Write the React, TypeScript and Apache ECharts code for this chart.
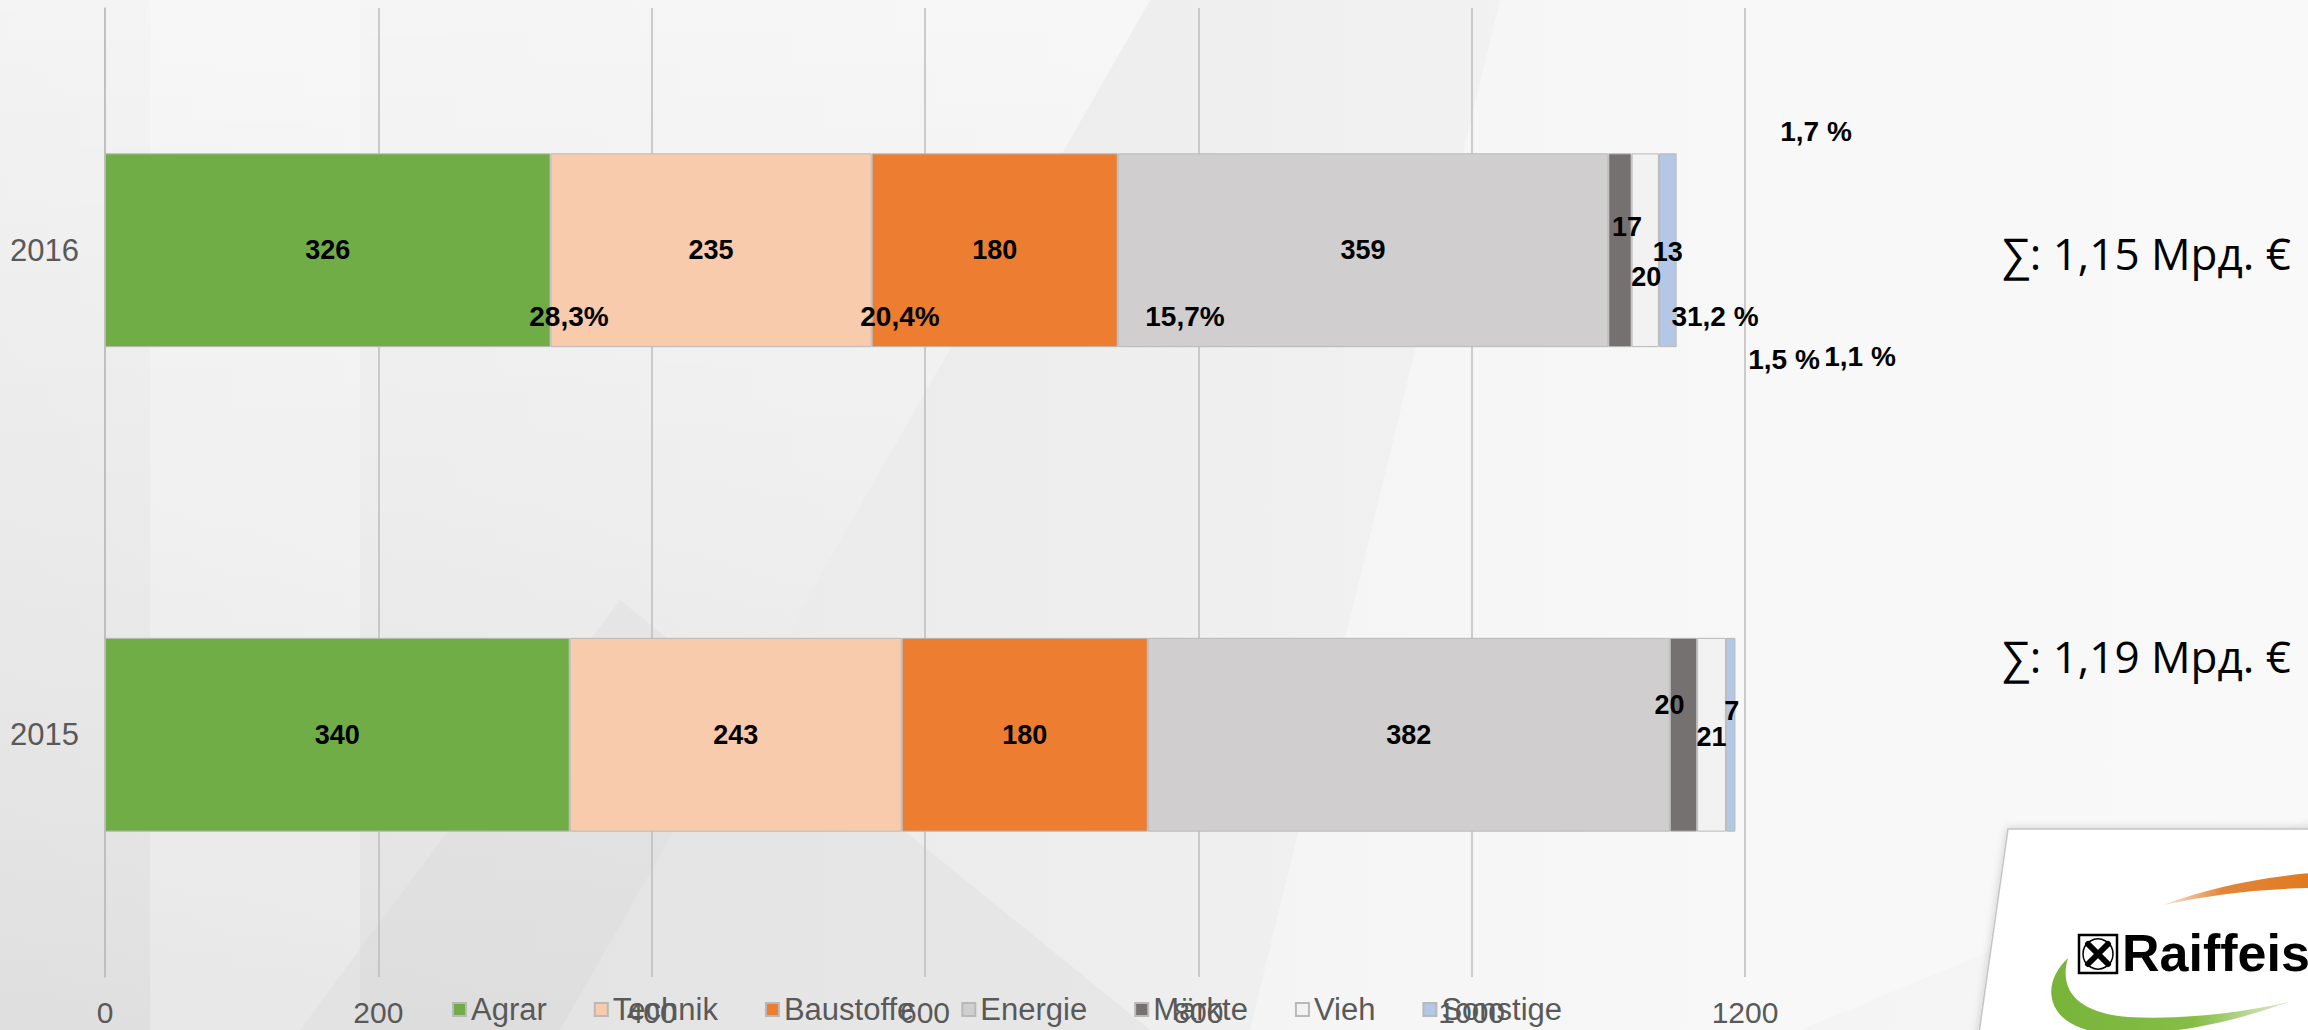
import React, { useEffect, useRef } from 'react';
import * as echarts from 'echarts';

// ---------- data ----------
const years = ['2015', '2016'];
const seriesNames = ['Agrar', 'Technik', 'Baustoffe', 'Energie', 'Märkte', 'Vieh', 'Sonstige'];
const values2015 = [340, 243, 180, 382, 20, 21, 7];
const values2016 = [326, 235, 180, 359, 17, 20, 13];
const pctLabels2016 = ['28,3%', '20,4%', '15,7%', '31,2 %', '1,5 %', '1,7 %', '1,1 %'];
const xMin = 0;
const xMax = 1200;
const xStep = 200;

// ---------- styles / layout ----------
const colors = ['#70ad47', '#f8cbad', '#ed7d31', '#d0cece', '#767171', '#f2f2f2', '#b4c7e7'];
const labelOffsets2015 = [[0, 0], [0, 0], [0, 0], [0, 0], [-14, -30], [0, 2], [1, -24]];
const labelOffsets2016 = [[0, 0], [0, 0], [0, 0], [0, 0], [7, -23], [1, 27], [0, 2]];
const pctPositions = [[569, 316], [900, 316], [1185, 316], [1715, 316], [1784, 359], [1816, 131], [1860, 356]];
const sumPositions = [[2002, 656], [2002, 253]]; // 2015, 2016

const SANS = '"Liberation Sans", Arial, sans-serif';
const NARROW = '"Liberation Sans Narrow", "Arial Narrow", "Liberation Sans", sans-serif';

const sum = (a: number[]) => a.reduce((s, v) => s + v, 0);
const fmtMrd = (v: number) => (v / 1000).toFixed(2).replace('.', ',');

export default function App() {
  const ref = useRef<HTMLDivElement>(null);

  useEffect(() => {
    if (!ref.current) return;

    echarts.graphic.registerShape(
      'orangeSwoosh',
      echarts.graphic.extendPath('M2163,905 Q2230,880 2312,873 L2312,888 Q2235,889 2163,905 Z', {})
    );
    echarts.graphic.registerShape(
      'greenSwoosh',
      echarts.graphic.extendPath(
        'M2068,958 C2036,988 2048,1034 2120,1034 C2190,1034 2250,1016 2289,1002 C2240,1013 2180,1020 2128,1017 C2080,1013 2058,992 2068,958 Z',
        {}
      )
    );

    const chart = echarts.init(ref.current, null, { renderer: 'svg' });

    const totals = [sum(values2015), sum(values2016)];

    const series = seriesNames.map((name, i) => ({
      name,
      type: 'bar',
      stack: 'total',
      barCategoryGap: '60%',
      itemStyle: { color: colors[i], borderColor: '#b9b9b9', borderWidth: 1 },
      label: {
        show: true,
        position: 'inside',
        fontSize: 27,
        fontWeight: 'bold',
        color: '#000',
        fontFamily: SANS,
      },
      emphasis: { disabled: true },
      data: [
        { value: values2015[i], label: { offset: labelOffsets2015[i] } },
        { value: values2016[i], label: { offset: labelOffsets2016[i] } },
      ],
    }));

    const pctTexts = pctLabels2016.map((t, i) => ({
      type: 'text',
      x: pctPositions[i][0],
      y: pctPositions[i][1],
      z: 20,
      silent: true,
      style: {
        text: t,
        fill: '#000',
        fontSize: 28,
        fontWeight: 'bold',
        fontFamily: NARROW,
        textAlign: 'center',
        textVerticalAlign: 'middle',
      },
    }));

    const sumTexts = years.map((y, i) => ({
      type: 'text',
      x: sumPositions[i][0],
      y: sumPositions[i][1],
      z: 20,
      silent: true,
      style: {
        text: '∑: ' + fmtMrd(totals[i]) + ' Мрд. €',
        fill: '#000',
        fontSize: 44,
        fontFamily: '"Open Sans", "Noto Sans", sans-serif',
        textAlign: 'left',
        textVerticalAlign: 'middle',
      },
    }));

    const background = [
      {
        type: 'rect',
        z: -100,
        silent: true,
        shape: { x: 0, y: 0, width: 2308, height: 1030 },
        style: {
          fill: new echarts.graphic.LinearGradient(0, 0, 1, 0, [
            { offset: 0, color: '#e6e6e6' },
            { offset: 0.45, color: '#ededed' },
            { offset: 0.75, color: '#f4f4f4' },
            { offset: 1, color: '#f6f6f6' },
          ]),
        },
      },
      {
        type: 'polygon',
        z: -99,
        silent: true,
        shape: { points: [[0, 0], [1150, 0], [560, 1030], [0, 1030]] },
        style: {
          fill: new echarts.graphic.LinearGradient(0, 0, 0, 1, [
            { offset: 0, color: 'rgba(255,255,255,0.55)' },
            { offset: 0.45, color: 'rgba(255,255,255,0.2)' },
            { offset: 1, color: 'rgba(200,200,200,0.25)' },
          ]),
        },
      },
      {
        type: 'polygon',
        z: -99,
        silent: true,
        shape: { points: [[150, 0], [360, 0], [360, 1030], [150, 1030]] },
        style: { fill: 'rgba(255,255,255,0.25)' },
      },
      {
        type: 'polygon',
        z: -99,
        silent: true,
        shape: { points: [[1500, 0], [2308, 0], [2308, 820], [1800, 1030], [1250, 1030]] },
        style: { fill: 'rgba(255,255,255,0.35)' },
      },
      {
        type: 'polygon',
        z: -99,
        silent: true,
        shape: { points: [[620, 600], [1150, 1030], [300, 1030]] },
        style: { fill: 'rgba(210,210,210,0.25)' },
      },
    ];

    const logo = [
      {
        type: 'polygon',
        z: 30,
        silent: true,
        shape: { points: [[2008, 829], [2320, 829], [2320, 1040], [1978, 1040]] },
        style: {
          fill: '#ffffff',
          stroke: '#c4c4c4',
          lineWidth: 1.5,
          shadowBlur: 8,
          shadowColor: 'rgba(0,0,0,0.18)',
        },
      },
      {
        type: 'orangeSwoosh',
        z: 31,
        silent: true,
        style: {
          fill: new echarts.graphic.LinearGradient(0, 0, 1, 0, [
            { offset: 0, color: 'rgba(230,130,40,0.2)' },
            { offset: 0.4, color: '#e2863a' },
            { offset: 1, color: '#e07a1f' },
          ]),
        },
      },
      {
        type: 'greenSwoosh',
        z: 31,
        silent: true,
        style: {
          fill: new echarts.graphic.LinearGradient(0, 0, 1, 0, [
            { offset: 0, color: '#78b43a' },
            { offset: 0.6, color: '#86bd45' },
            { offset: 1, color: 'rgba(140,190,80,0.3)' },
          ]),
        },
      },
      {
        type: 'rect',
        z: 32,
        silent: true,
        shape: { x: 2079, y: 935, width: 38, height: 38 },
        style: { fill: '#fff', stroke: '#000', lineWidth: 2.5 },
      },
      {
        type: 'circle',
        z: 33,
        silent: true,
        shape: { cx: 2098, cy: 954, r: 15 },
        style: { fill: 'none', stroke: '#000', lineWidth: 1.5 },
      },
      {
        type: 'line',
        z: 34,
        silent: true,
        shape: { x1: 2088, y1: 944, x2: 2108, y2: 964 },
        style: { stroke: '#000', lineWidth: 6, lineCap: 'round' },
      },
      {
        type: 'line',
        z: 34,
        silent: true,
        shape: { x1: 2108, y1: 944, x2: 2088, y2: 964 },
        style: { stroke: '#000', lineWidth: 6, lineCap: 'round' },
      },
      {
        type: 'text',
        z: 34,
        silent: true,
        x: 2122,
        y: 953,
        style: {
          text: 'Raiffeisen',
          fill: '#000',
          fontSize: 52,
          fontWeight: 'bold',
          fontFamily: SANS,
          textAlign: 'left',
          textVerticalAlign: 'middle',
        },
      },
    ];

    const option = {
      animation: false,
      grid: { left: 105, right: 563, top: 8, bottom: 53, containLabel: false },
      legend: {
        data: seriesNames,
        left: 447,
        top: 989,
        icon: 'rect',
        itemWidth: 13,
        itemHeight: 13,
        itemGap: 47,
        selectedMode: false,
        textStyle: { fontSize: 31, color: '#595959', fontFamily: SANS },
      },
      xAxis: {
        type: 'value',
        min: xMin,
        max: xMax,
        interval: xStep,
        axisLine: { show: false },
        axisTick: { show: false },
        splitLine: { show: true, lineStyle: { color: '#bdbdbd', width: 1.5 } },
        axisLabel: {
          fontSize: 30,
          color: '#595959',
          fontFamily: SANS,
          margin: 20,
          formatter: (v: number) => String(v),
        },
      },
      yAxis: {
        type: 'category',
        data: years,
        axisLine: { show: true, lineStyle: { color: '#bdbdbd', width: 1.5 } },
        axisTick: { show: false },
        axisLabel: { fontSize: 31, color: '#595959', fontFamily: SANS, margin: 26 },
      },
      series,
      graphic: [...background, ...pctTexts, ...sumTexts, ...logo],
    };

    chart.setOption(option as any);
    return () => chart.dispose();
  }, []);

  return (
    <div
      ref={ref}
      style={{ position: 'absolute', left: 0, top: 0, width: 2308, height: 1030, overflow: 'hidden' }}
    />
  );
}
